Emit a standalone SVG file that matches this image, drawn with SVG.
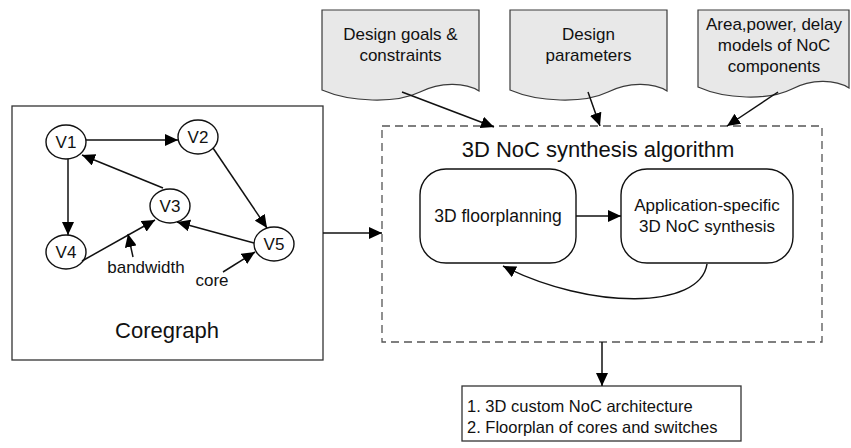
<svg xmlns="http://www.w3.org/2000/svg" width="851" height="448" viewBox="0 0 851 448">
<style>
text{font-family:"Liberation Sans",Arial,sans-serif;fill:#111}
.doc{fill:#e8e8e8;stroke:#3a3a3a;stroke-width:1.2}
.n{fill:#fff;stroke:#111;stroke-width:1.4}
.c{fill:none;stroke:#111;stroke-width:1.5}
.t17{font-size:17px;text-anchor:middle}
.box{fill:#fff;stroke:#333;stroke-width:1.3}
</style>
<defs>
<marker id="ah" markerUnits="userSpaceOnUse" markerWidth="14" markerHeight="12" refX="13" refY="6" orient="auto">
<path d="M0,0 L13,6 L0,12 Z" fill="#000"/>
</marker>
</defs>
<rect width="851" height="448" fill="#fff"/>

<g id="coregraph">
<rect class="box" x="12" y="106" width="311" height="254"/>
<text x="167" y="338" font-size="22" text-anchor="middle">Coregraph</text>
</g>
<g id="V1"><ellipse class="n" cx="66" cy="142" rx="20" ry="17"/><text class="t17" x="66" y="148">V1</text></g>
<g id="V2"><ellipse class="n" cx="198" cy="137" rx="20" ry="17"/><text class="t17" x="198" y="143">V2</text></g>
<g id="V3"><ellipse class="n" cx="170" cy="206" rx="20" ry="17"/><text class="t17" x="170" y="212">V3</text></g>
<g id="V4"><ellipse class="n" cx="66" cy="252" rx="20" ry="17"/><text class="t17" x="66" y="258">V4</text></g>
<g id="V5"><ellipse class="n" cx="274" cy="244" rx="20" ry="17"/><text class="t17" x="274" y="250">V5</text></g>
<g id="labels">
<text class="t17" x="146" y="273">bandwidth</text>
<text class="t17" x="212" y="286">core</text>
</g>

<g id="doc1">
<path class="doc" d="M322,10 H479 V91 C465,82 440,82 420,92 C395,104 350,102 322,90 Z"/>
<text class="t17" x="400.5" y="40">Design goals &amp;</text>
<text class="t17" x="400.5" y="61">constraints</text>
</g>
<g id="doc2">
<path class="doc" d="M510,10 H667 V91 C653,82 628,82 608,92 C583,104 538,102 510,90 Z"/>
<text class="t17" x="588.5" y="40">Design</text>
<text class="t17" x="588.5" y="61">parameters</text>
</g>
<g id="doc3">
<path class="doc" d="M698,10 H849 V88 C835,79 811,79 792,89 C768,101 725,99 698,87 Z"/>
<text class="t17" x="774" y="30">Area,power, delay</text>
<text class="t17" x="774" y="51">models of NoC</text>
<text class="t17" x="774" y="72">components</text>
</g>

<g id="algorithm">
<rect x="382" y="126" width="440" height="216" fill="none" stroke="#555" stroke-width="1.3" stroke-dasharray="8,5"/>
<text x="598" y="157" font-size="22" text-anchor="middle">3D NoC synthesis algorithm</text>
</g>
<g id="floorplanning">
<rect class="n" x="420" y="169" width="156" height="94" rx="26" ry="26"/>
<text x="498" y="222" font-size="17.5" text-anchor="middle">3D floorplanning</text>
</g>
<g id="synthesis">
<rect class="n" x="621" y="169" width="172" height="94" rx="26" ry="26"/>
<text x="707" y="211" font-size="17" text-anchor="middle">Application-specific</text>
<text x="707" y="232" font-size="17" text-anchor="middle">3D NoC synthesis</text>
</g>
<g id="output">
<rect class="box" x="462" y="386" width="279" height="55"/>
<text x="467" y="412" font-size="16.5">1. 3D custom NoC architecture</text>
<text x="467" y="433" font-size="16.5">2. Floorplan of cores and switches</text>
</g>

<g id="connectors">
<path class="c" d="M86,140 L178,140" marker-end="url(#ah)"/>
<path class="c" d="M68,159 L68,235" marker-end="url(#ah)"/>
<path class="c" d="M163,188 L82,155" marker-end="url(#ah)"/>
<path class="c" d="M213,148 L267,228" marker-end="url(#ah)"/>
<path class="c" d="M82,261 L155,220" marker-end="url(#ah)"/>
<path class="c" d="M254,243 L177,222" marker-end="url(#ah)"/>
<path class="c" d="M133,257 L128,234" marker-end="url(#ah)"/>
<path class="c" d="M223,272 L255,252" marker-end="url(#ah)"/>
<path class="c" d="M323,233 L382,233" marker-end="url(#ah)"/>
<path class="c" d="M402,92 L494,127" marker-end="url(#ah)"/>
<path class="c" d="M588,92 L600,126" marker-end="url(#ah)"/>
<path class="c" d="M778,92 L727,126" marker-end="url(#ah)"/>
<path class="c" d="M576,216 L621,216" marker-end="url(#ah)"/>
<path class="c" d="M707,264 C700,310 590,310 503,266" marker-end="url(#ah)"/>
<path class="c" d="M602,342 L602,386" marker-end="url(#ah)"/>
</g>
</svg>
